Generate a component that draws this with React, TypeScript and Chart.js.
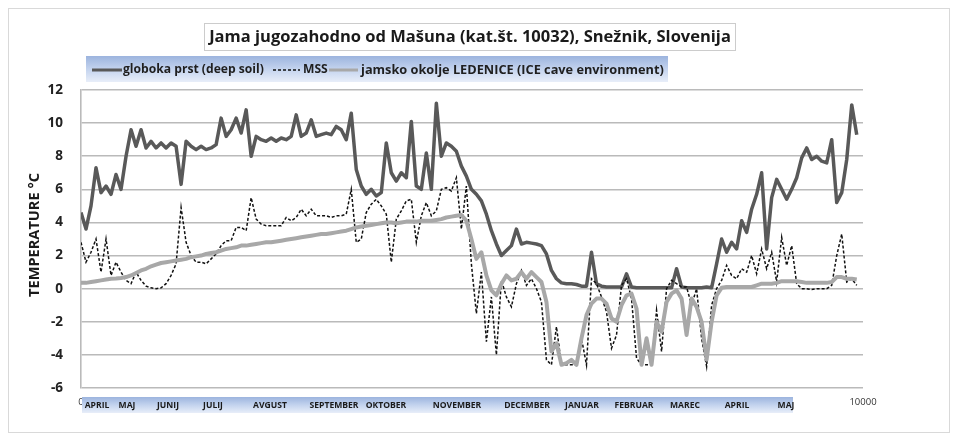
import React, { useEffect, useRef } from "react";
import { Chart, registerables } from "chart.js";

Chart.register(...registerables);

const chartTitle = "Jama jugozahodno od Mašuna (kat.št. 10032), Snežnik, Slovenija";
const yAxisTitle = "TEMPERATURE °C";
const seriesNames = [
  "globoka prst (deep soil)",
  "MSS",
  "jamsko okolje LEDENICE (ICE cave environment)",
];
const monthLabels = [
  "APRIL", "MAJ", "JUNIJ", "JULIJ", "AVGUST", "SEPTEMBER", "OKTOBER",
  "NOVEMBER", "DECEMBER", "JANUAR", "FEBRUAR", "MAREC", "APRIL", "MAJ",
];
const xTickValues = [0, 10000];
const yMin = -6;
const yMax = 12;
const yStep = 2;

const hours = [
  0, 64, 128, 192, 256, 320, 384, 448, 512, 576,
  640, 704, 768, 832, 896, 960, 1024, 1088, 1152, 1216,
  1280, 1344, 1408, 1472, 1536, 1600, 1664, 1728, 1792, 1856,
  1920, 1984, 2048, 2112, 2176, 2240, 2304, 2368, 2432, 2496,
  2560, 2624, 2688, 2752, 2816, 2880, 2944, 3008, 3072, 3136,
  3200, 3264, 3328, 3392, 3456, 3520, 3584, 3648, 3712, 3776,
  3840, 3904, 3968, 4032, 4096, 4160, 4224, 4288, 4352, 4416,
  4480, 4544, 4608, 4672, 4736, 4800, 4864, 4928, 4992, 5056,
  5120, 5184, 5248, 5312, 5376, 5440, 5504, 5568, 5632, 5696,
  5760, 5824, 5888, 5952, 6016, 6080, 6144, 6208, 6272, 6336,
  6400, 6464, 6528, 6592, 6656, 6720, 6784, 6848, 6912, 6976,
  7040, 7104, 7168, 7232, 7296, 7360, 7424, 7488, 7552, 7616,
  7680, 7744, 7808, 7872, 7936, 8000, 8064, 8128, 8192, 8256,
  8320, 8384, 8448, 8512, 8576, 8640, 8704, 8768, 8832, 8896,
  8960, 9024, 9088, 9152, 9216, 9280, 9344, 9408, 9472, 9536,
  9600, 9664, 9728, 9792, 9856, 9920,
];

const deepSoil = [
  4.6, 3.6, 5.0, 7.3, 5.8, 6.2, 5.7, 6.9, 6.0, 8.0,
  9.6, 8.6, 9.6, 8.5, 8.9, 8.5, 8.8, 8.5, 8.8, 8.6,
  6.3, 8.9, 8.6, 8.4, 8.6, 8.4, 8.5, 8.7, 10.3, 9.2,
  9.6, 10.3, 9.4, 10.8, 8.0, 9.2, 9.0, 8.9, 9.1, 8.9,
  9.1, 9.0, 9.2, 10.5, 9.2, 9.4, 10.2, 9.2, 9.3, 9.4,
  9.3, 9.8, 9.6, 9.0, 10.6, 7.2, 6.2, 5.7, 6.0, 5.6,
  5.8, 8.8, 7.0, 6.5, 7.0, 6.7, 10.1, 6.2, 6.0, 8.2,
  6.0, 11.2, 8.0, 8.8, 8.6, 8.3, 7.4, 6.8, 6.0, 5.7,
  5.3, 4.5, 3.5, 2.7, 2.0, 2.3, 2.6, 3.6, 2.7, 2.8,
  2.75, 2.7, 2.6, 2.1, 1.1, 0.6, 0.35, 0.3, 0.3, 0.25,
  0.15, 0.15, 2.2, 0.3, 0.15, 0.1, 0.1, 0.1, 0.1, 0.9,
  0.1, 0.05, 0.05, 0.05, 0.05, 0.05, 0.05, 0.05, 0.05, 1.2,
  0.1, 0.05, 0.05, 0.05, 0.05, 0.1, 0.05, 1.5, 3.0, 2.2,
  2.8, 2.4, 4.1, 3.4, 4.8, 5.7, 7.0, 2.4, 5.5, 6.6,
  6.0, 5.4, 6.0, 6.7, 7.9, 8.5, 7.8, 8.0, 7.7, 7.6,
  9.0, 5.2, 5.8, 7.8, 11.1, 9.3,
];

const mss = [
  2.8, 1.6, 2.2, 3.0, 1.0, 3.0, 0.8, 1.6, 1.0, 0.5,
  0.3, 1.0, 0.5, 0.15, 0.05, 0.0, 0.05, 0.3, 0.8, 1.5,
  4.9, 2.8, 2.0, 1.6, 1.6, 1.5, 1.8, 2.1, 2.6, 2.9,
  2.9, 3.7, 3.7, 3.5, 5.5, 4.2, 3.9, 3.8, 3.8, 3.8,
  3.8, 4.3, 4.1, 4.3, 4.8, 4.4, 4.8, 4.4, 4.4, 4.4,
  4.3, 4.4, 4.4, 4.5, 6.0, 2.8, 3.0, 4.6, 5.1, 5.4,
  5.0, 4.5, 1.6, 4.2, 4.7, 5.3, 5.4, 2.8, 4.4, 5.2,
  4.4, 4.7, 6.0, 6.1, 5.9, 6.7, 3.6, 6.2, 1.5, -1.5,
  1.0, -3.2, -0.5, -4.0, 0.5, -0.5, -1.1, 0.3, 1.1, 0.2,
  0.6, 0.0, -0.8, -4.3, -4.6, -2.3, -4.6, -4.6, -4.6, -4.6,
  -3.0, -4.6, 0.6, 0.3, -0.5, -1.4, -3.6, -2.8, 0.2, 0.6,
  -0.6, -4.2, -4.6, -4.6, -4.6, -1.3, -3.8, 0.0, 0.5, 0.3,
  0.1, 0.1, -1.0, 0.0, -3.0, -4.7, -1.0, 0.0, 0.5, 1.4,
  0.8, 0.6, 1.2, 1.0, 2.0, 0.9, 2.4, 1.2, 2.2, 0.4,
  3.1, 1.4, 2.6, 0.3, 0.0, 0.0, -0.05, 0.0, 0.0, 0.0,
  0.2, 2.0, 3.3, 0.4, 0.6, 0.2,
];

const iceCave = [
  0.35, 0.35, 0.4, 0.45, 0.5, 0.55, 0.6, 0.62, 0.65, 0.7,
  0.8, 0.95, 1.1, 1.2, 1.35, 1.45, 1.55, 1.6, 1.65, 1.7,
  1.75, 1.8, 1.9, 1.95, 2.0, 2.1, 2.15, 2.2, 2.3, 2.4,
  2.45, 2.5, 2.6, 2.6, 2.65, 2.7, 2.75, 2.8, 2.8, 2.85,
  2.9, 2.95, 3.0, 3.05, 3.1, 3.15, 3.2, 3.25, 3.3, 3.3,
  3.35, 3.4, 3.45, 3.5, 3.6, 3.7, 3.75, 3.8, 3.85, 3.9,
  3.95, 4.0, 4.0, 3.95, 4.0, 4.05, 4.05, 4.05, 4.1, 4.1,
  4.1, 4.15, 4.2, 4.3, 4.35, 4.4, 4.45, 4.1, 3.0, 1.8,
  2.2, 0.8, -0.1, -0.4, 0.3, 0.8, 0.5, 0.6, 1.0, 0.6,
  1.0, 0.7, 0.4, -0.8, -3.8, -3.3, -4.6, -4.5, -4.3, -4.6,
  -3.0, -1.6, -0.9, -0.6, -0.6, -0.9, -1.8, -2.0, -1.0, -0.4,
  -0.3, -1.2, -4.6, -3.0, -4.6, -2.0, -2.6, -0.8, -0.3, -0.1,
  -0.6, -2.8, -0.6, -1.1, -2.0, -4.3, -2.0, -0.4, 0.05, 0.1,
  0.1, 0.1, 0.1, 0.1, 0.1, 0.2, 0.3, 0.3, 0.3, 0.35,
  0.45, 0.45, 0.45, 0.45, 0.4, 0.35, 0.35, 0.35, 0.35, 0.35,
  0.4, 0.7, 0.7, 0.6, 0.6, 0.55,
];

const FONT = "'Open Sans', 'Noto Sans', sans-serif";
const COLORS = { deep: "#595959", mss: "#111111", cave: "#a8a8a8" };
const monthCenters = [88, 118, 159, 204, 261, 325, 377, 448, 518, 573, 625, 676, 728, 777];

function bandGradient(ctx: CanvasRenderingContext2D, y0: number, y1: number) {
  const g = ctx.createLinearGradient(0, y0, 0, y1);
  g.addColorStop(0, "#9cb4de");
  g.addColorStop(0.5, "#c3d3ee");
  g.addColorStop(1, "#e8eef9");
  return g;
}

// set a bold font whose rendered width of `text` equals `target`
function fitFont(ctx: CanvasRenderingContext2D, text: string, target: number) {
  ctx.font = `bold 20px ${FONT}`;
  const w = ctx.measureText(text).width;
  const size = (20 * target) / w;
  ctx.font = `bold ${size.toFixed(2)}px ${FONT}`;
  return size;
}

const overlayPlugin = {
  id: "overlay",
  afterDraw(chart: any) {
    const ctx: CanvasRenderingContext2D = chart.ctx;
    ctx.save();
    // title box
    ctx.strokeStyle = "#cccccc";
    ctx.lineWidth = 1;
    ctx.strokeRect(195.5, 14.5, 531, 27);
    ctx.fillStyle = "#1a1a1a";
    fitFont(ctx, chartTitle, 522);
    ctx.textAlign = "center";
    ctx.textBaseline = "middle";
    ctx.fillText(chartTitle, 461, 28.5);

    // legend band
    ctx.fillStyle = bandGradient(ctx, 47, 73);
    ctx.fillRect(77, 47, 582, 26);
    const ds = chart.data.datasets;
    const ly = 61;
    ctx.lineCap = "butt";
    ctx.strokeStyle = ds[0].borderColor;
    ctx.lineWidth = 3;
    ctx.beginPath(); ctx.moveTo(83, ly); ctx.lineTo(113, ly); ctx.stroke();
    ctx.strokeStyle = ds[1].borderColor;
    ctx.lineWidth = 1.5;
    ctx.setLineDash([3, 2]);
    ctx.beginPath(); ctx.moveTo(264, ly); ctx.lineTo(291, ly); ctx.stroke();
    ctx.setLineDash([]);
    ctx.strokeStyle = ds[2].borderColor;
    ctx.lineWidth = 3;
    ctx.beginPath(); ctx.moveTo(320, ly); ctx.lineTo(349, ly); ctx.stroke();
    ctx.fillStyle = "#1f1f1f";
    ctx.textAlign = "left";
    const legendSize = fitFont(ctx, seriesNames[0], 141);
    ctx.fillText(seriesNames[0], 114, ly);
    ctx.font = `bold ${legendSize.toFixed(2)}px ${FONT}`;
    ctx.fillText(seriesNames[1], 294, ly);
    fitFont(ctx, seriesNames[2], 303);
    ctx.fillText(seriesNames[2], 352, ly);

    // y axis title
    ctx.save();
    ctx.translate(26, 226);
    ctx.rotate(-Math.PI / 2);
    ctx.textAlign = "center";
    fitFont(ctx, yAxisTitle, 124);
    ctx.fillStyle = "#1a1a1a";
    ctx.fillText(yAxisTitle, 0, 0);
    ctx.restore();

    // month band
    ctx.fillStyle = bandGradient(ctx, 388, 404);
    ctx.fillRect(73, 388, 711, 16);
    ctx.fillStyle = "#1a1a1a";
    fitFont(ctx, "SEPTEMBER", 49);
    ctx.textAlign = "center";
    monthLabels.forEach((m, i) => ctx.fillText(m, monthCenters[i], 396.5));
    ctx.restore();
  },
};

export default function App() {
  const ref = useRef<HTMLCanvasElement | null>(null);
  useEffect(() => {
    if (!ref.current) return;
    const chart = new Chart(ref.current, {
      type: "line",
      data: {
        labels: hours,
        datasets: [
          {
            label: seriesNames[0],
            data: hours.map((h, i) => ({ x: h, y: deepSoil[i] })),
            borderColor: COLORS.deep,
            borderWidth: 3.5,
            pointRadius: 0,
            borderJoinStyle: "round",
            order: 2,
          },
          {
            label: seriesNames[1],
            data: hours.map((h, i) => ({ x: h, y: mss[i] })),
            borderColor: COLORS.mss,
            borderWidth: 1.5,
            borderDash: [3, 2],
            pointRadius: 0,
            order: 1,
          },
          {
            label: seriesNames[2],
            data: hours.map((h, i) => ({ x: h, y: iceCave[i] })),
            borderColor: COLORS.cave,
            borderWidth: 4,
            pointRadius: 0,
            borderJoinStyle: "round",
            order: 0,
          },
        ],
      },
      options: {
        animation: false,
        responsive: false,
        layout: { padding: { left: 0, top: 81, right: 86, bottom: 24 } },
        plugins: { legend: { display: false }, tooltip: { enabled: false }, title: { display: false } },
        scales: {
          x: {
            type: "linear",
            min: 0,
            max: 10000,
            afterBuildTicks: (s: any) => { s.ticks = xTickValues.map((v) => ({ value: v })); },
            afterFit: (s: any) => { s.height = 20; },
            grid: { display: false, drawTicks: false },
            border: { display: false },
            ticks: {
              padding: 9,
              color: "#333",
              font: { family: FONT, size: 9.5 },
              callback: (v: any) => String(v),
            },
          },
          y: {
            min: yMin,
            max: yMax,
            afterFit: (s: any) => { s.width = 72; },
            grid: { color: "#bababa", lineWidth: 1.6, drawTicks: false },
            border: { display: true, color: "#bababa", width: 1.6 },
            ticks: {
              stepSize: yStep,
              padding: 18,
              color: "#222",
              font: { family: FONT, size: 13.5, weight: "bold" },
            },
          },
        },
      },
      plugins: [overlayPlugin],
    } as any);
    return () => chart.destroy();
  }, []);
  return (
    <div style={{ width: 940, height: 423, border: "1px solid #d9d9d9", background: "#fff" }}>
      <canvas ref={ref} width={940} height={423} style={{ display: "block" }} />
    </div>
  );
}
